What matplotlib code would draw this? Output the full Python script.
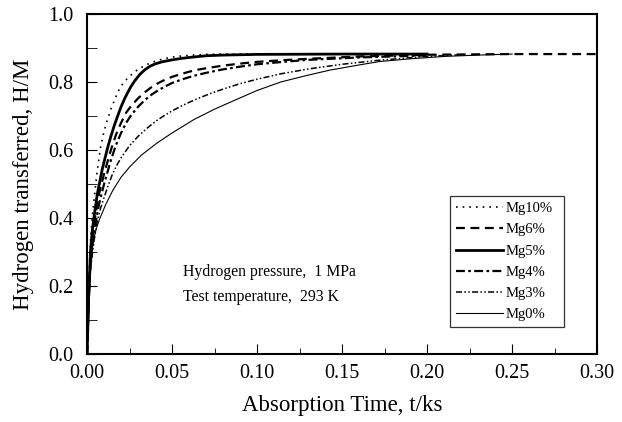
import numpy as np
import matplotlib
matplotlib.use("Agg")
import matplotlib.pyplot as plt
from matplotlib.ticker import MultipleLocator

plt.rcParams['font.family'] = ['Liberation Serif', 'DejaVu Serif']

# curves (t in ks, H/M)
x_mg10 = [0, 0.001, 0.002, 0.003, 0.004, 0.006, 0.008, 0.010, 0.012, 0.014, 0.016,
          0.018, 0.021, 0.024, 0.028, 0.031, 0.035, 0.040, 0.045, 0.050, 0.055,
          0.062, 0.07, 0.08, 0.09, 0.12, 0.15, 0.2]
y_mg10 = [0, 0.2, 0.33, 0.40, 0.45, 0.54, 0.61, 0.655, 0.69, 0.72, 0.745,
          0.77, 0.795, 0.812, 0.83, 0.84, 0.851, 0.861, 0.868, 0.873, 0.876,
          0.879, 0.881, 0.882, 0.882, 0.882, 0.882, 0.882]

x_mg6 = [0, 0.001, 0.002, 0.004, 0.007, 0.010, 0.014, 0.017, 0.020, 0.023, 0.026,
         0.030, 0.034, 0.038, 0.042, 0.046, 0.050, 0.055, 0.060, 0.065, 0.072,
         0.08, 0.09, 0.1, 0.115, 0.13, 0.16, 0.2, 0.25, 0.3]
y_mg6 = [0, 0.17, 0.28, 0.38, 0.47, 0.53, 0.60, 0.645, 0.68, 0.71, 0.73,
         0.752, 0.77, 0.785, 0.797, 0.807, 0.815, 0.823, 0.83, 0.836, 0.842,
         0.848, 0.854, 0.859, 0.864, 0.868, 0.875, 0.88, 0.882, 0.882]

x_mg5 = [0, 0.001, 0.002, 0.003, 0.004, 0.006, 0.009, 0.012, 0.014, 0.016, 0.018,
         0.020, 0.022, 0.024, 0.026, 0.028, 0.031, 0.034, 0.037, 0.040, 0.044,
         0.049, 0.055, 0.062, 0.07, 0.08, 0.1, 0.15, 0.2]
y_mg5 = [0, 0.18, 0.3, 0.36, 0.4, 0.47, 0.545, 0.605, 0.64, 0.672, 0.70,
         0.727, 0.75, 0.77, 0.788, 0.803, 0.822, 0.836, 0.846, 0.853, 0.859,
         0.864, 0.869, 0.873, 0.877, 0.879, 0.881, 0.882, 0.882]

x_mg4 = [0, 0.001, 0.002, 0.004, 0.007, 0.010, 0.014, 0.017, 0.020, 0.023, 0.026,
         0.030, 0.034, 0.038, 0.042, 0.046, 0.050, 0.055, 0.060, 0.065, 0.072,
         0.08, 0.09, 0.1, 0.115, 0.13, 0.16, 0.2]
y_mg4 = [0, 0.16, 0.27, 0.36, 0.44, 0.50, 0.57, 0.615, 0.65, 0.68, 0.703,
         0.727, 0.747, 0.763, 0.776, 0.787, 0.797, 0.806, 0.814, 0.821, 0.829,
         0.837, 0.845, 0.852, 0.859, 0.865, 0.872, 0.878]

x_mg3 = [0, 0.001, 0.002, 0.004, 0.006, 0.008, 0.010, 0.012, 0.015, 0.018, 0.02,
         0.025, 0.030, 0.035, 0.040, 0.045, 0.050, 0.055, 0.060, 0.065, 0.072,
         0.08, 0.09, 0.1, 0.114, 0.13, 0.15, 0.172, 0.2, 0.22]
y_mg3 = [0, 0.15, 0.25, 0.33, 0.39, 0.43, 0.46, 0.49, 0.53, 0.56, 0.577,
         0.613, 0.64, 0.663, 0.683, 0.70, 0.715, 0.728, 0.74, 0.751, 0.765,
         0.779, 0.795, 0.808, 0.824, 0.838, 0.852, 0.864, 0.875, 0.88]

x_mg0 = [0, 0.001, 0.002, 0.0035, 0.0055, 0.0076, 0.011, 0.015, 0.02, 0.025, 0.032,
         0.041, 0.05, 0.063, 0.075, 0.084, 0.1, 0.114, 0.13, 0.143, 0.16, 0.172,
         0.19, 0.21, 0.23, 0.25]
y_mg0 = [0, 0.14, 0.24, 0.33, 0.37, 0.40, 0.44, 0.48, 0.52, 0.55, 0.585,
         0.62, 0.65, 0.69, 0.72, 0.74, 0.775, 0.80, 0.82, 0.835, 0.85, 0.86,
         0.868, 0.875, 0.879, 0.882]

fig = plt.figure(figsize=(6.22, 4.22), dpi=100)
ax = fig.add_axes([0.14, 0.161, 0.82, 0.806])

ax.plot(x_mg10, y_mg10, color='black', lw=1.2, ls=(0, (1, 3)), label='Mg10%')
ax.plot(x_mg6, y_mg6, color='black', lw=1.6, ls=(0, (4, 2.5)), label='Mg6%')
ax.plot(x_mg5, y_mg5, color='black', lw=2.0, ls='-', label='Mg5%')
ax.plot(x_mg4, y_mg4, color='black', lw=1.6, ls=(0, (4, 1.5, 1.2, 1.5)), label='Mg4%')
ax.plot(x_mg3, y_mg3, color='black', lw=1.1, ls=(0, (4, 1.5, 1, 1.5, 1, 1.5)), label='Mg3%')
ax.plot(x_mg0, y_mg0, color='black', lw=0.8, ls='-', label='Mg0%')

ax.set_xlim(0, 0.30)
ax.set_ylim(0, 1.0)
ax.xaxis.set_major_locator(MultipleLocator(0.05))
ax.xaxis.set_minor_locator(MultipleLocator(0.025))
ax.yaxis.set_major_locator(MultipleLocator(0.2))
ax.yaxis.set_minor_locator(MultipleLocator(0.1))
ax.xaxis.set_major_formatter(plt.FormatStrFormatter('%.2f'))
ax.yaxis.set_major_formatter(plt.FormatStrFormatter('%.1f'))
ax.tick_params(which='both', direction='in', labelsize=14.5, top=False, right=False)
ax.tick_params(axis='x', which='major', length=7, pad=7)
ax.tick_params(axis='x', which='minor', length=4)
ax.tick_params(axis='y', which='both', length=7, pad=10)
for s in ax.spines.values():
    s.set_linewidth(1.5)

ax.set_xlabel('Absorption Time, t/ks', fontsize=16.5, labelpad=9)
ax.set_ylabel('Hydrogen transferred, H/M', fontsize=16.5, labelpad=10)

ax.text(0.0565, 0.241, 'Hydrogen pressure,  1 MPa', fontsize=11.3, va='center')
ax.text(0.0565, 0.168, 'Test temperature,  293 K', fontsize=11.3, va='center')

leg = ax.legend(loc='lower left', bbox_to_anchor=(0.712, 0.079, 0.223, 0.462),
                mode='expand', fontsize=10.5, frameon=True, fancybox=False,
                edgecolor='black', handlelength=3.2, handletextpad=0.2,
                labelspacing=0.55, borderaxespad=0)
leg.get_frame().set_linewidth(0.9)

fig.savefig('out.png', dpi=100)
